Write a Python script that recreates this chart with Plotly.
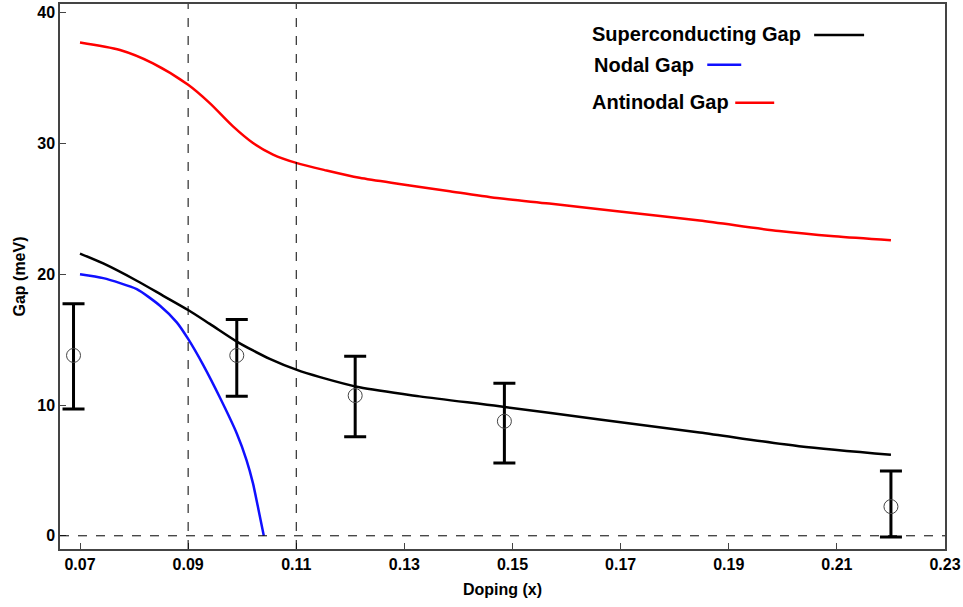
import plotly.graph_objects as go

# ---- data ----
anti_x = [0.0700, 0.0774, 0.0835, 0.0900, 0.0940, 0.0983, 0.1020, 0.1057, 0.1100, 0.1156,
          0.1217, 0.1291, 0.1384, 0.1476, 0.1568, 0.1698, 0.1846, 0.1993, 0.2095, 0.2200]
anti_y = [37.72, 37.14, 36.12, 34.48, 33.08, 31.3, 30.03, 29.15, 28.51, 27.93,
          27.37, 26.9, 26.35, 25.8, 25.4, 24.8, 24.1, 23.3, 22.9, 22.6]

sc_x = [0.0700, 0.0743, 0.0805, 0.0854, 0.0900, 0.0940, 0.0990, 0.1020, 0.1051, 0.1100,
        0.1144, 0.1217, 0.1328, 0.1476, 0.1661, 0.1846, 0.2030, 0.2200]
sc_y = [21.58, 20.82, 19.5, 18.35, 17.26, 16.2, 14.85, 14.17, 13.53, 12.7,
        12.13, 11.35, 10.66, 9.9, 8.9, 7.9, 6.85, 6.2]

nodal_x = [0.0700, 0.0743, 0.0805, 0.0848, 0.0879, 0.0900, 0.0928, 0.0959, 0.0990,
           0.1008, 0.1020, 0.1029, 0.1040]
nodal_y = [20.0, 19.7, 18.86, 17.59, 16.32, 15.05, 13.05, 10.55, 7.82,
           5.79, 4.01, 2.23, 0.0]

pts_x = [0.0688, 0.0990, 0.1209, 0.1485, 0.2200]
pts_y = [13.79, 13.79, 10.72, 8.76, 2.23]
err_plus = [3.95, 2.75, 3.0, 2.9, 2.72]
err_minus = [4.1, 3.13, 3.15, 3.2, 2.33]

x_ticks = [0.07, 0.09, 0.11, 0.13, 0.15, 0.17, 0.19, 0.21, 0.23]
y_ticks = [0, 10, 20, 30, 40]
vlines = [0.09, 0.11]

legend_items = ["Superconducting Gap", "Nodal Gap", "Antinodal Gap"]
legend_colors = ["black", "#1010ff", "#ff0000"]

W, H = 963, 607
ML, MR, MT, MB = 60, 17, 2, 58
PW, PH = W - ML - MR, H - MT - MB


def px(xp):
    return (xp - ML) / PW


def py(yp):
    return (H - MB - yp) / PH


fig = go.Figure()
fig.add_trace(go.Scatter(x=anti_x, y=anti_y, mode="lines",
                         line=dict(color="#ff0000", width=2.5, shape="spline", smoothing=0.8),
                         showlegend=False))
fig.add_trace(go.Scatter(x=sc_x, y=sc_y, mode="lines",
                         line=dict(color="black", width=2.5, shape="spline", smoothing=0.8),
                         showlegend=False))
fig.add_trace(go.Scatter(x=nodal_x, y=nodal_y, mode="lines",
                         line=dict(color="#1010ff", width=2.5, shape="spline", smoothing=0.6),
                         showlegend=False))
fig.add_trace(go.Scatter(x=pts_x, y=pts_y, mode="markers",
                         marker=dict(symbol="circle-open", size=14, color="#444", line=dict(width=1, color="#444")),
                         error_y=dict(type="data", array=err_plus, arrayminus=err_minus, color="black",
                                      thickness=3, width=11),
                         showlegend=False))

for v in vlines:
    fig.add_vline(x=v, line=dict(color="black", width=1, dash="dash"))
fig.add_hline(y=0, line=dict(color="black", width=1, dash="dash"))

# manual legend (text with line on the right)
leg_text_pos = [(591, 32), (593, 63), (591, 100)]
leg_line_pos = [(815, 865, 33), (708, 742, 63), (736, 775, 101)]
for name, col, (tx, ty), (l0, l1, ly) in zip(legend_items, legend_colors, leg_text_pos, leg_line_pos):
    fig.add_annotation(text=name, x=px(tx), y=py(ty), xref="paper", yref="paper",
                       xanchor="left", yanchor="middle", showarrow=False,
                       font=dict(family="Liberation Sans, Arial", size=20, color="black", weight="bold"))
    fig.add_shape(type="line", xref="paper", yref="paper", x0=px(l0), x1=px(l1), y0=py(ly), y1=py(ly),
                  line=dict(color=col, width=2.5))

axis_font = dict(family="Liberation Sans, Arial", size=16, color="black", weight="bold")
title_font = dict(family="Liberation Sans, Arial", size=16, color="black", weight="bold")
fig.update_xaxes(range=[0.0663, 0.2300], tickvals=x_ticks, ticktext=[f"{t:.2f}" for t in x_ticks],
                 ticks="inside", ticklen=6, tickcolor="#444", showgrid=False, zeroline=False,
                 showline=True, linecolor="#444", linewidth=1.5, mirror=True,
                 tickfont=axis_font,
                 title=dict(text="Doping (x)", font=title_font, standoff=12))
fig.update_yaxes(range=[-1.01, 40.66], tickvals=y_ticks, ticks="inside", ticklen=6, tickcolor="#444",
                 showgrid=False, zeroline=False, showline=True, linecolor="#444", linewidth=1.5, mirror=True,
                 tickfont=axis_font,
                 title=dict(text="Gap (meV)", font=title_font, standoff=8))
fig.update_layout(width=W, height=H, margin=dict(l=ML, r=MR, t=MT, b=MB),
                  plot_bgcolor="white", paper_bgcolor="white")
fig.write_html("out.html")
